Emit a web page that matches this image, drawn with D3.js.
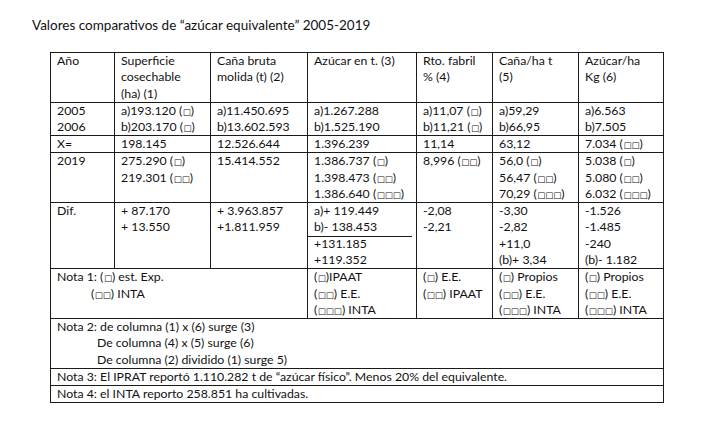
<!DOCTYPE html>
<html><head><meta charset="utf-8">
<script src="https://cdn.jsdelivr.net/npm/d3@7"></script>
<style>
body{margin:0;background:#fff}
svg text{font-family:Lato,"Open Sans",sans-serif;fill:#111}
</style>
</head><body>
<svg id="chart" width="721" height="440"></svg>
<script>
(function() {

	var TITLE = 'Valores comparativos de \u201cazúcar equivalente\u201d 2005-2019';

	// table cell texts, one array entry per column, one string per line
	var headerCells = [['Año'], ['Superficie', 'cosechable', '(ha) (1)'], ['Caña bruta', 'molida (t) (2)'],
		['Azúcar en t. (3)'], ['Rto. fabril', '% (4)'], ['Caña/ha t', '(5)'], ['Azúcar/ha', 'Kg (6)']];
	var cells2005 = [['2005', '2006'], ['a)193.120 (□)', 'b)203.170 (□)'], ['a)11.450.695', 'b)13.602.593'],
		['a)1.267.288', 'b)1.525.190'], ['a)11,07 (□)', 'b)11,21 (□)'], ['a)59,29', 'b)66,95'], ['a)6.563', 'b)7.505']];
	var cellsMean = [['X='], ['198.145'], ['12.526.644'], ['1.396.239'], ['11,14'], ['63,12'], ['7.034 (□□)']];
	var cells2019 = [['2019'], ['275.290 (□)', '219.301 (□□)'], ['15.414.552'],
		['1.386.737 (□)', '1.398.473 (□□)', '1.386.640 (□□□)'], ['8,996 (□□)'],
		['56,0 (□)', '56,47 (□□)', '70,29 (□□□)'], ['5.038 (□)', '5.080 (□□)', '6.032 (□□□)']];
	var cellsDif = [['Dif.'], ['+ 87.170', '+ 13.550'], ['+ 3.963.857', '+1.811.959'],
		['a)+ 119.449', 'b)- 138.453', '+131.185', '+119.352'], ['-2,08', '-2,21'],
		['-3,30', '-2,82', '+11,0', '(b)+ 3,34'], ['-1.526', '-1.485', '-240', '(b)- 1.182']];
	var nota1Cells = [['Nota 1: (□) est. Exp.', '\t(□□) INTA'], ['(□)IPAAT', '(□□) E.E.', '(□□□) INTA'],
		['(□) E.E.', '(□□) IPAAT'], ['(□) Propios', '(□□) E.E.', '(□□□) INTA'], ['(□) Propios', '(□□) E.E.', '(□□□) INTA']];
	var nota1Spans = [3, 1, 1, 1, 1];
	var nota2Lines = ['Nota 2: de columna (1) x (6) surge (3)', '\tDe columna (4) x (5) surge (6)', '\tDe columna (2) dividido (1) surge 5)'];
	var nota3Lines = ['Nota 3: El IPRAT reportó 1.110.282 t de \u201cazúcar físico\u201d. Menos 20% del equivalente.'];
	var nota4Lines = ['Nota 4: el INTA reporto 258.851 ha cultivadas.'];

	var colWidths = [64, 96, 97, 109, 76, 86, 85];
	var TABLE_X = 50, TABLE_Y = 52, LINE_H = 16.4, ROW_PAD = 0.6, TEXT_PAD = 7;
	var FONT_SIZE = 12.3;

	var svg = d3.select('#chart');

	var colX = [TABLE_X];
	colWidths.forEach(function(w, i) { colX.push(colX[i] + w); });

	function row(cells, spans) {
		spans = spans || cells.map(function() { return 1; });
		var out = [], c = 0;
		cells.forEach(function(lines, i) {
			out.push({ lines: lines, from: c, to: c + spans[i] });
			c += spans[i];
		});
		return { cells: out, nLines: d3.max(cells, function(l) { return l.length; }) };
	}

	var rows = [
		row(headerCells), row(cells2005), row(cellsMean), row(cells2019), row(cellsDif),
		row(nota1Cells, nota1Spans), row([nota2Lines], [7]), row([nota3Lines], [7]), row([nota4Lines], [7])
	];

	// y positions from cumulative line counts
	var y = d3.scaleLinear().domain([0, 1]).range([TABLE_Y, TABLE_Y + LINE_H]);
	var acc = 0;
	rows.forEach(function(r, i) {
		r.top = y(acc) + i * ROW_PAD;
		acc += r.nLines;
		r.bottom = y(acc) + (i + 1) * ROW_PAD;
	});

	svg.append('text')
		.attr('x', 32).attr('y', 30)
		.style('font-size', '13.5px')
		.text(TITLE);

	var lines = svg.append('g').attr('stroke', '#1a1a1a').attr('stroke-width', 1).attr('shape-rendering', 'crispEdges');

	// horizontal rules
	lines.selectAll('line.h').data([rows[0].top].concat(rows.map(function(r) { return r.bottom; })))
		.enter().append('line')
		.attr('x1', colX[0]).attr('x2', colX[7])
		.attr('y1', function(d) { return Math.round(d) + 0.5; })
		.attr('y2', function(d) { return Math.round(d) + 0.5; });

	// vertical rules per cell
	rows.forEach(function(r) {
		r.cells.forEach(function(cell) {
			[cell.from, cell.to].forEach(function(c) {
				lines.append('line')
					.attr('x1', colX[c] + 0.5).attr('x2', colX[c] + 0.5)
					.attr('y1', Math.round(r.top)).attr('y2', Math.round(r.bottom) + 1);
			});
		});
	});

	// separator inside the Dif. cell of column (3)
	var difRow = rows[4];
	lines.append('line')
		.attr('x1', colX[3]).attr('x2', colX[4] - 4)
		.attr('y1', Math.round(difRow.top + 2 * LINE_H) + 1.5)
		.attr('y2', Math.round(difRow.top + 2 * LINE_H) + 1.5);

	var measure = svg.append('text').style('font-size', FONT_SIZE + 'px').attr('visibility', 'hidden');
	function textWidth(s) { measure.text(s); return measure.node().getComputedTextLength(); }

	function writeLine(g, str, x, yy) {
		var t = g.append('text').attr('x', x).attr('y', yy).style('font-size', FONT_SIZE + 'px');
		str.split(/(□+)/).forEach(function(part) {
			if (!part) return;
			var ts = t.append('tspan').text(part);
			if (part[0] === '□') {
				ts.style('font-family', '"DejaVu Sans"').style('font-size', '8.5px').attr('dx', 0.5);
			}
		});
	}

	var textG = svg.append('g');
	rows.forEach(function(r) {
		r.cells.forEach(function(cell) {
			var x0 = colX[cell.from] + TEXT_PAD;
			var indent = 0;
			var m = cell.lines[0].match(/^Nota \d: /);
			if (m) indent = textWidth(m[0]) - (cell.lines.length === 2 ? 6 : 0);
			cell.lines.forEach(function(s, k) {
				var x = x0;
				if (s[0] === '\t') { s = s.slice(1); x = x0 + indent; }
				writeLine(textG, s, x, r.top + 13 + k * LINE_H);
			});
		});
	});
	measure.remove();
}());
</script>
</body></html>
